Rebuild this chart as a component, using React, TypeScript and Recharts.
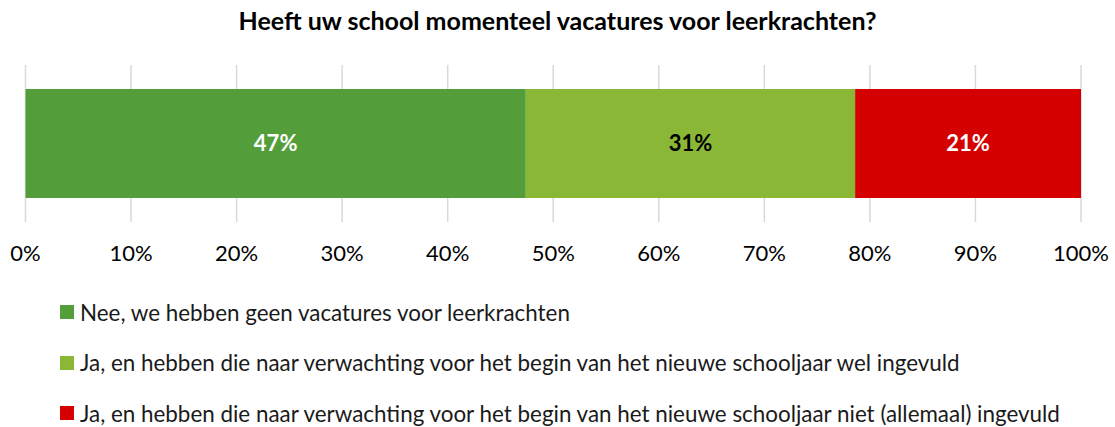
import { Bar, BarChart, CartesianGrid, LabelList, XAxis, YAxis } from 'recharts'

document.body.style.margin = '0'

const categorie = ['Vacatures']
const reeksNamen = [
  'Nee, we hebben geen vacatures voor leerkrachten',
  'Ja, en hebben die naar verwachting voor het begin van het nieuwe schooljaar wel ingevuld',
  'Ja, en hebben die naar verwachting voor het begin van het nieuwe schooljaar niet (allemaal) ingevuld',
]
const reeksWaarden = [47.4, 31.2, 21.4]
const labelTeksten = ['47%', '31%', '21%']
const xTicks = [0, 10, 20, 30, 40, 50, 60, 70, 80, 90, 100]

const kleuren = ['#539E3A', '#8BB737', '#D50000']
const labelKleuren = ['#FFFFFF', '#000000', '#FFFFFF']
const FONT = 'Lato, "Noto Sans", sans-serif'

const data = categorie.map((naam) => {
  const rij: Record<string, string | number> = { naam }
  reeksWaarden.forEach((v, i) => {
    rij[`s${i}`] = v
  })
  return rij
})

function Legenda() {
  return (
    <div
      style={{
        position: 'absolute',
        left: 60,
        top: 287,
        fontFamily: FONT,
        fontSize: 22.4,
        color: '#1a1a1a',
      }}
    >
      {reeksNamen.map((naam, i) => (
        <div
          key={naam}
          style={{ display: 'flex', alignItems: 'center', height: 50.5, whiteSpace: 'nowrap' }}
        >
          <span
            style={{
              display: 'inline-block',
              width: 14,
              height: 14,
              background: kleuren[i],
              marginRight: 6,
            }}
          />
          {naam}
        </div>
      ))}
    </div>
  )
}

export default function App() {
  return (
    <div style={{ position: 'relative', width: 1115, height: 427, background: '#fff' }}>
      <div
        style={{
          position: 'absolute',
          top: 5,
          left: 0,
          width: 1115,
          textAlign: 'center',
          fontFamily: FONT,
          fontWeight: 700,
          fontSize: 25,
          color: '#000',
        }}
      >
        Heeft uw school momenteel vacatures voor leerkrachten?
      </div>
      <BarChart
        width={1115}
        height={427}
        data={data}
        layout="vertical"
        margin={{ top: 65, right: 34, bottom: 175, left: 25.5 }}
      >
        <CartesianGrid stroke="#D9D9D9" strokeWidth={1.5} horizontal={false} />
        <XAxis
          type="number"
          domain={[0, 100]}
          ticks={xTicks}
          tickFormatter={(v) => `${v}%`}
          axisLine={false}
          tickLine={false}
          tickMargin={17}
          height={30}
          tick={{ fill: '#000', fontSize: 22, fontFamily: FONT }}
          interval={0}
        />
        <YAxis type="category" dataKey="naam" hide />
        {reeksWaarden.map((_, i) => (
          <Bar
            key={i}
            dataKey={`s${i}`}
            name={reeksNamen[i]}
            stackId="a"
            fill={kleuren[i]}
            barSize={109}
            isAnimationActive={false}
          >
            <LabelList
              dataKey={`s${i}`}
              position="center"
              formatter={() => labelTeksten[i]}
              fill={labelKleuren[i]}
              style={{ fontFamily: FONT, fontWeight: 700, fontSize: 22 }}
            />
          </Bar>
        ))}
      </BarChart>
      <Legenda />
    </div>
  )
}
